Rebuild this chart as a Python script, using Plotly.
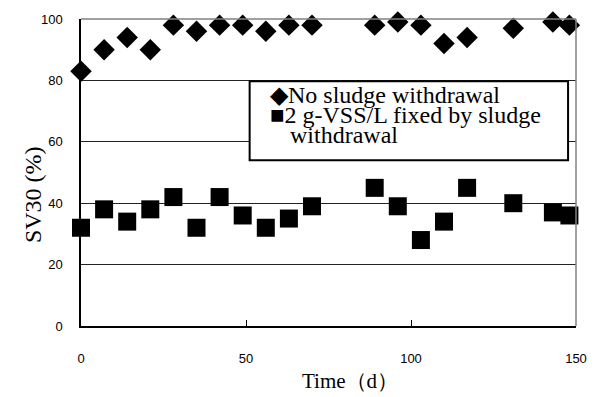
import plotly.graph_objects as go

# Sampling days (d) and SV30 readings (%) for both operating modes
days = [0, 7, 14, 21, 28, 35, 42, 49, 56, 63, 70, 89, 96, 103, 110, 117, 131, 143, 148]
sv30_no_withdrawal = [83, 90, 94, 90, 98, 96, 98, 98, 96, 98, 98, 98, 99, 98, 92, 94, 97, 99, 98]
sv30_fixed_vss = [32, 38, 34, 38, 42, 32, 42, 36, 32, 35, 39, 45, 39, 28, 34, 45, 40, 37, 36]

x_ticks = [0, 50, 100, 150]
y_ticks = [0, 20, 40, 60, 80, 100]

legend_lines = ["◆No sludge withdrawal", "■2 g-VSS/L fixed by sludge", "withdrawal"]

SERIF = "Liberation Serif"
SANS = "Liberation Sans"

fig = go.Figure()
fig.add_trace(go.Scatter(
    x=days, y=sv30_no_withdrawal, mode="markers", name="No sludge withdrawal",
    marker=dict(symbol="diamond", size=16.5, color="black", line=dict(width=0)),
    cliponaxis=False,
))
fig.add_trace(go.Scatter(
    x=days, y=sv30_fixed_vss, mode="markers", name="2 g-VSS/L fixed by sludge withdrawal",
    marker=dict(symbol="square", size=18, color="black", line=dict(width=0)),
    cliponaxis=False,
))

W, H = 599, 397
L, R, T, B = 81, 19, 15, 71
pw, ph = W - L - R, H - T - B


def px(xp):
    return (xp - L) / pw


def py(yp):
    return (H - B - yp) / ph


fig.update_layout(
    width=W, height=H,
    margin=dict(l=L, r=R, t=T, b=B, pad=0),
    paper_bgcolor="white", plot_bgcolor="white",
    showlegend=False,
    xaxis=dict(
        range=[0, 150], tickvals=x_ticks, ticks="inside", ticklen=6,
        tickcolor="black", tickwidth=1, showgrid=False, zeroline=False,
        showline=True, linecolor="black", linewidth=1.5,
        tickfont=dict(family=SANS, size=13, color="black"),
        ticklabelstandoff=20,
    ),
    yaxis=dict(
        range=[0, 100], tickvals=y_ticks, ticks="", showgrid=True,
        gridcolor="#222222", gridwidth=1, zeroline=False,
        showline=True, linecolor="black", linewidth=1.5,
        tickfont=dict(family=SANS, size=13, color="black"),
        ticklabelstandoff=14,
    ),
)

# Grey frame on the top and right of the plot area
fig.add_shape(type="line", xref="x domain", yref="y domain", x0=0, x1=1, y0=1, y1=1,
              line=dict(color="#808080", width=1.5))
fig.add_shape(type="line", xref="x domain", yref="y domain", x0=1, x1=1, y0=0, y1=1,
              line=dict(color="#808080", width=1.5))

# Legend box
fig.add_shape(type="rect", xref="paper", yref="paper",
              x0=px(251), x1=px(572), y0=py(158), y1=py(78),
              line=dict(color="black", width=2), fillcolor="white", layer="above")
legend_pos = [(270, 92), (270, 112.7), (290, 133)]
for text, (lx, ly) in zip(legend_lines, legend_pos):
    fig.add_annotation(text=text, xref="paper", yref="paper", x=px(lx), y=py(ly),
                       xanchor="left", yanchor="middle", showarrow=False,
                       font=dict(family=SERIF, size=24, color="black"))

# Axis titles
fig.add_annotation(text="SV30 (%)", xref="paper", yref="paper", x=px(32), y=py(193),
                   xanchor="center", yanchor="middle", textangle=-90, showarrow=False,
                   font=dict(family=SERIF, size=24, color="black"))
fig.add_annotation(text="Time（d）", xref="paper", yref="paper", x=px(352), y=py(382),
                   xanchor="center", yanchor="middle", showarrow=False,
                   font=dict(family=SERIF, size=21, color="black"))

fig.write_html("out.html")
